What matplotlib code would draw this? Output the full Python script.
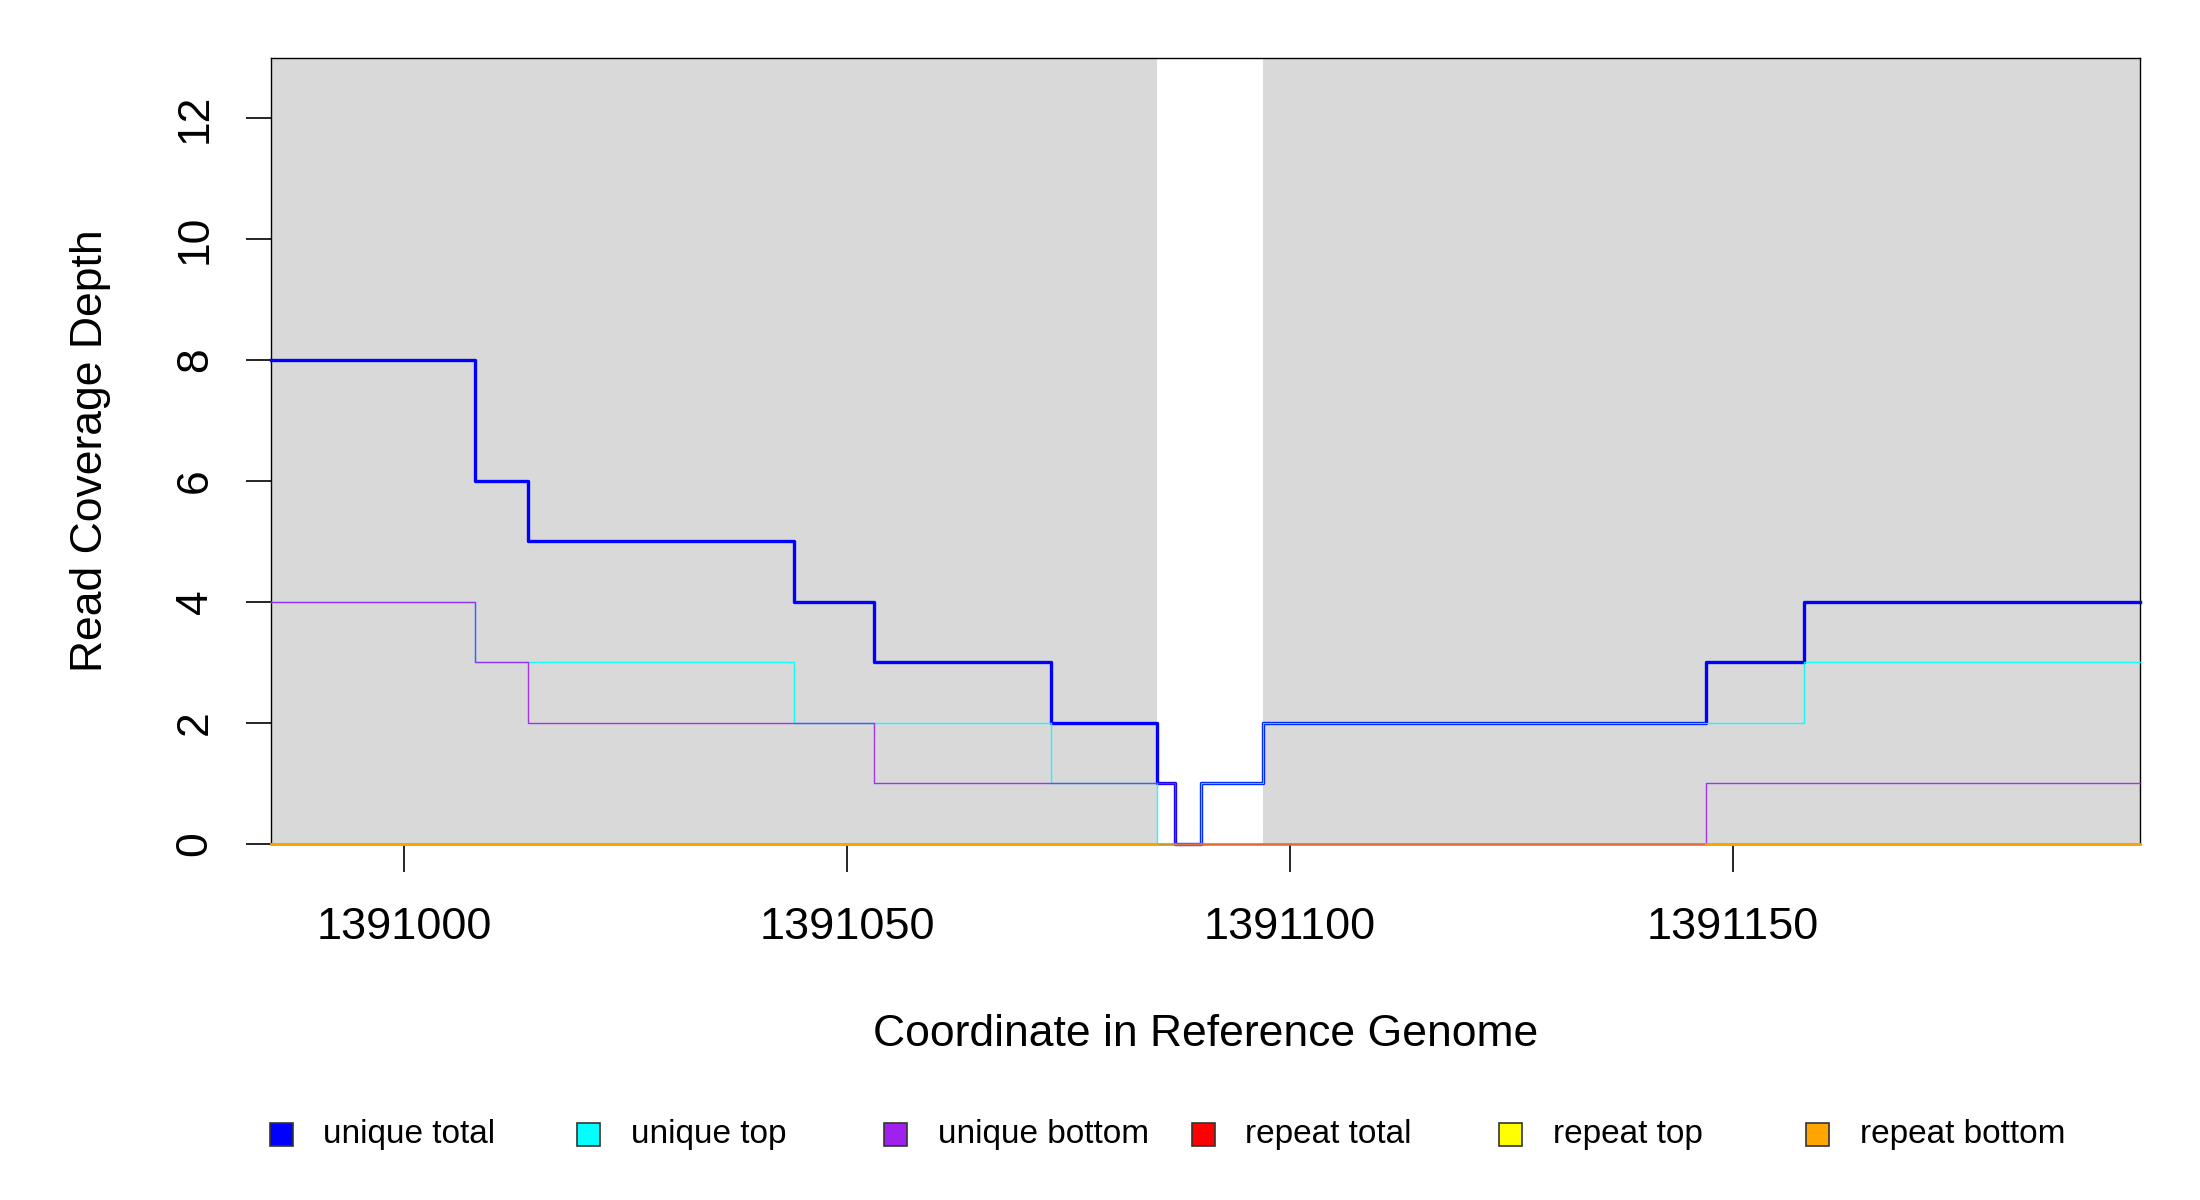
import numpy as np
import matplotlib
matplotlib.use('Agg')
import matplotlib.pyplot as plt
from matplotlib.patches import Rectangle

plt.rcParams['font.family'] = ['Liberation Sans', 'DejaVu Sans']

# 覆盖深度数据（阶梯，每段起点 + 最后终点）
breaks = [1390985, 1391008, 1391014, 1391044, 1391053, 1391073, 1391085,
          1391087, 1391090, 1391097, 1391147, 1391158, 1391196]
unique_total = [8, 6, 5, 4, 3, 2, 1, 0, 1, 2, 3, 4]
unique_top = [4, 3, 3, 2, 2, 1, 0, 0, 1, 2, 2, 3]
unique_bottom = [4, 3, 2, 2, 1, 1, 1, 0, 0, 0, 1, 1]
repeat_total = [0, 0, 0, 0, 0, 0, 0, 0, 0, 0, 0, 0]
repeat_top = [0, 0, 0, 0, 0, 0, 0, 0, 0, 0, 0, 0]
repeat_bottom = [0, 0, 0, 0, 0, 0, np.nan, np.nan, np.nan, np.nan, 0, 0]

# 灰色背景区间（中间空白区不填）
shade_regions = [(1390985, 1391085), (1391097, 1391196)]

xticks = [1391000, 1391050, 1391100, 1391150]
yticks = [0, 2, 4, 6, 8, 10, 12]

labels = ['unique total', 'unique top', 'unique bottom',
          'repeat total', 'repeat top', 'repeat bottom']
colors = ['#0000FF', '#00FFFF', '#A020F0', '#FF0000', '#FFFF00', '#FFA500']


def stepify(vals):
    # 末尾补一个值，让 where='post' 画到最后一个断点
    return list(vals) + [vals[-1]]


fig = plt.figure(figsize=(22, 12), dpi=100)
ax = fig.add_axes([0.1233, 0.297, 0.8495, 0.655])

for a, b in shade_regions:
    ax.axvspan(a, b, ymin=0, ymax=1, color='#D9D9D9', lw=0, zorder=0)

series = [unique_total, unique_top, unique_bottom,
          repeat_total, repeat_top, repeat_bottom]
widths = [2.4, 1.0, 1.0, 1.8, 1.8, 1.8]
alphas = [1.0, 0.9, 0.9, 0.6, 0.4, 1.0]
for s, c, w, al in zip(series, colors, widths, alphas):
    ax.step(breaks, stepify(s), where='post', color=c, lw=w, alpha=al,
            zorder=3, clip_on=False)

ax.set_xlim(1390985, 1391196)
ax.set_ylim(0, 13)
ax.set_xticks(xticks)
ax.set_xticklabels([str(t) for t in xticks])
ax.set_yticks(yticks)
ax.tick_params(axis='x', length=20, width=1.2, pad=26, labelsize=32.5)
ax.tick_params(axis='y', length=18, width=1.2, pad=22, labelsize=32,
               labelrotation=90)
for lab in ax.get_yticklabels():
    lab.set_va('center')

for sp in ax.spines.values():
    sp.set_linewidth(1.0)
    sp.set_color('black')
    sp.set_zorder(2)

ax.set_xlabel('Coordinate in Reference Genome', fontsize=32, labelpad=47)
ax.set_ylabel('Read Coverage Depth', fontsize=32, labelpad=46)

# 图例（手动横排，模仿 R 的 legend）
x0 = 0.1278
dx = 0.1397
ly = 0.0545
sq_w = 23 / 2200
sq_h = 23 / 1200
for i, (lab, c) in enumerate(zip(labels, colors)):
    x = x0 + i * dx
    fig.patches.append(Rectangle((x - sq_w / 2, ly - sq_h / 2), sq_w, sq_h,
                                 transform=fig.transFigure, facecolor=c,
                                 edgecolor='#333333', lw=1.2))
    fig.text(x + 0.0192, ly, lab, fontsize=24, va='center', ha='left')

fig.savefig('out.png', dpi=100)
